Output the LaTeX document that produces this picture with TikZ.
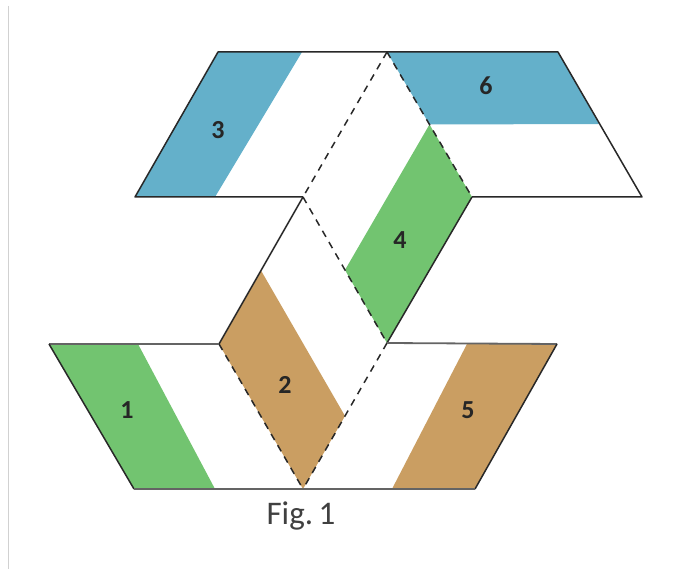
\documentclass[tikz,border=0pt]{standalone}
\usepackage{fontspec}
\setmainfont{Carlito}
\definecolor{cblue}{RGB}{100,176,202}
\definecolor{cgreen}{RGB}{114,196,112}
\definecolor{cbrown}{RGB}{202,158,98}
\definecolor{cline}{RGB}{40,40,40}
\definecolor{cgrayline}{RGB}{100,100,100}
\tikzset{
  edge/.style={draw=cline,line width=1.5pt,line join=round},
  grayedge/.style={draw=cgrayline,line width=1.8pt},
  fold/.style={draw=cline,line width=1.5pt,dash pattern=on 7pt off 6pt},
  lbl/.style={font=\fontsize{26}{28}\selectfont\bfseries,text=black!85},
}
\begin{document}
\begin{tikzpicture}[x=1pt,y=-1pt]
\useasboundingbox (0,0) rectangle (675,569);
\fill[white] (0,0) rectangle (675,569);
\draw[black!18,line width=1pt] (8,6) -- (8,569);
% key points
\coordinate (tTL) at (218,52);
\coordinate (tTR) at (558,52);
\coordinate (tBR) at (642,197);
\coordinate (tBL) at (135,197);
\coordinate (rT) at (387,52);
\coordinate (rR) at (472,197);
\coordinate (rB) at (387,343);
\coordinate (rL) at (303,197);
\coordinate (sL) at (219,344);
\coordinate (sB) at (303,489);
\coordinate (bTL) at (49,344);
\coordinate (bTR) at (557,344);
\coordinate (bBR) at (475,489);
\coordinate (bBL) at (134,489);
% coloured bands
\fill[cblue] (tTL) -- (302,52) -- (215,197) -- (tBL) -- cycle;
\fill[cblue] (rT) -- (tTR) -- (599,124) -- (429.5,124.5) -- cycle;
\fill[cgreen] (429.5,124.5) -- (rR) -- (rB) -- (345,270) -- cycle;
\fill[cbrown] (261,270.5) -- (345,416) -- (sB) -- (sL) -- cycle;
\fill[cgreen] (bTL) -- (138,344) -- (215,489) -- (bBL) -- cycle;
\fill[cbrown] (467,344) -- (bTR) -- (bBR) -- (392,489) -- cycle;
% top trapezoid outline
\draw[edge] (rL) -- (tBL) -- (tTL) -- (tTR) -- (tBR) -- (rR);
% top rhombus
\draw[fold] (rT) -- (rL);
\draw[fold] (rT) -- (rR);
\draw[edge] (rR) -- (rB);
\draw[fold] (rL) -- (rB);
% lower rhombus
\draw[edge] (rL) -- (sL);
\draw[fold] (sL) -- (sB);
\draw[fold] (rB) -- (sB);
% bottom trapezoid
\draw[grayedge] (sL) -- (bTL);
\draw[grayedge] (rB) -- (bTR);
\draw[edge] (bTL) -- (bBL);
\draw[edge] (bTR) -- (bBR);
\draw[grayedge] (bBL) -- (bBR);
% labels
\node[lbl] (n3) at (218,130) {3};
\node[lbl] (n6) at (486,86) {6};
\node[lbl] (n4) at (400,240) {4};
\node[lbl] (n2) at (285,385) {2};
\node[lbl] (n1) at (127,410) {1};
\node[lbl] (n5) at (468,410) {5};
\node[font=\fontsize{33}{36}\selectfont,text=black!75] (fig) at (301,516) {Fig.\,1};
\end{tikzpicture}
\end{document}
